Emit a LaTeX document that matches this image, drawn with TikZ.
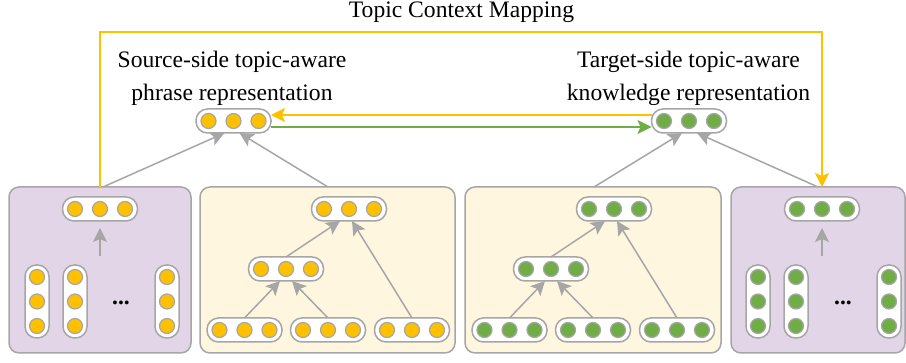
\documentclass[tikz,border=0pt]{standalone}
\usepackage{fontspec}
\setmainfont{Liberation Serif}
\usetikzlibrary{arrows.meta,calc}
\definecolor{cgold}{HTML}{FFC000}
\definecolor{cgreen}{HTML}{70AD47}
\definecolor{cgray}{HTML}{A6A6A6}
\definecolor{cpurple}{HTML}{E1D5E7}
\definecolor{ccream}{HTML}{FFF6E0}
\newcommand\hrow[4]{%
  \node[hpill] (#1) at (#2,#3) {};
  \node[dotc,fill=#4] (#1a) at ($(#1.center)+(-25,0)$) {};
  \node[dotc,fill=#4] (#1b) at (#1.center) {};
  \node[dotc,fill=#4] (#1c) at ($(#1.center)+(25,0)$) {};}
\newcommand\vrow[4]{%
  \node[vpill] (#1) at (#2,#3) {};
  \node[dotc,fill=#4] (#1a) at ($(#1.center)+(0,-24.5)$) {};
  \node[dotc,fill=#4] (#1b) at (#1.center) {};
  \node[dotc,fill=#4] (#1c) at ($(#1.center)+(0,24.5)$) {};}
\begin{document}
\begin{tikzpicture}[x=1pt,y=-1pt,
  hpill/.style={draw=cgray,line width=1.5pt,fill=white,rounded corners=11.5pt,minimum width=75pt,minimum height=24pt,inner sep=0pt,outer sep=0pt},
  vpill/.style={draw=cgray,line width=1.5pt,fill=white,rounded corners=11.5pt,minimum width=24pt,minimum height=73pt,inner sep=0pt,outer sep=0pt},
  dotc/.style={circle,draw=cgray,line width=1.2pt,minimum size=15pt,inner sep=0pt},
  panel/.style={draw=cgray,line width=1.5pt,rounded corners=10pt,minimum height=166pt,inner sep=0pt,outer sep=0pt},
  garrow/.style={draw=cgray,line width=1.5pt,-{Stealth[length=14pt,width=14pt,inset=3pt]}},
  yarrow/.style={draw=cgold,line width=1.5pt,-{Stealth[length=14pt,width=14pt,inset=3pt]}},
  grarrow/.style={draw=cgreen,line width=1.5pt,-{Stealth[length=14pt,width=14pt,inset=3pt]}},
  lab/.style={font=\fontsize{23.6}{33}\selectfont,align=center,inner sep=0pt},
  ell/.style={font=\bfseries\fontsize{23.6}{28}\selectfont,inner sep=0pt,anchor=base}
]
\path[use as bounding box] (0,0) rectangle (906,363);

% panels
\node[panel,fill=cpurple,minimum width=182pt] (pA) at (100,270) {};
\node[panel,fill=ccream,minimum width=255pt] (pB) at (327.5,270) {};
\node[panel,fill=ccream,minimum width=256pt] (pC) at (593,270) {};
\node[panel,fill=cpurple,minimum width=174pt] (pD) at (818,270) {};

% labels
\node[lab] (title) at (461.5,12.5) {Topic Context Mapping};
\node[lab] (srclab) at (232,78) {Source-side topic-aware\\phrase representation};
\node[lab] (tgtlab) at (688.5,78) {Target-side topic-aware\\knowledge representation};

% top representations
\hrow{src}{233.5}{121}{cgold}
\hrow{tgt}{689}{121}{cgreen}

% topic context mapping
\coordinate (tcmA) at ($(pA.north)$);
\coordinate (tcmD) at ($(pD.north)+(4,0)$);
\draw[yarrow] (tcmA) -- ++(0,-155) -| (tcmD);

% horizontal arrows
\draw[yarrow] ($(tgt.west)+(0,-6)$) -- ($(src.east)+(0,-6)$);
\draw[grarrow] ($(src.east)+(0,6)$) -- ($(tgt.west)+(0,6)$);

% panel A
\hrow{pa}{100}{209}{cgold}
\vrow{va1}{37}{301.5}{cgold}
\vrow{va2}{75}{301.5}{cgold}
\vrow{va3}{167}{301.5}{cgold}
\node[ell] (ellA) at (121,304.5) {...};
\coordinate (upA) at (100,256);
\draw[garrow] (upA) -- ($(pa.south)+(0,7)$);

% panel B
\hrow{tb}{349}{209}{cgold}
\hrow{mb}{286}{269}{cgold}
\hrow{ba}{244.5}{330}{cgold}
\hrow{bb}{328}{330}{cgold}
\hrow{bc}{412}{330}{cgold}
\draw[garrow] (ba.north) -- ($(mb.south)+(-6,0)$);
\draw[garrow] (bb.north) -- ($(mb.south)+(6,0)$);
\draw[garrow] (mb.north) -- ($(tb.south)+(-9,0)$);
\draw[garrow] (bc.north) -- ($(tb.south)+(3,0)$);

% panel C
\hrow{tc}{614}{209}{cgreen}
\hrow{mc}{551}{269}{cgreen}
\hrow{ca}{509.5}{330}{cgreen}
\hrow{cb}{593}{330}{cgreen}
\hrow{cc}{677}{330}{cgreen}
\draw[garrow] (ca.north) -- ($(mc.south)+(-6,0)$);
\draw[garrow] (cb.north) -- ($(mc.south)+(6,0)$);
\draw[garrow] (mc.north) -- ($(tc.south)+(-9,0)$);
\draw[garrow] (cc.north) -- ($(tc.south)+(3,0)$);

% panel D
\hrow{pd}{822}{209}{cgreen}
\vrow{vd1}{758}{301.5}{cgreen}
\vrow{vd2}{796}{301.5}{cgreen}
\vrow{vd3}{889}{301.5}{cgreen}
\node[ell] (ellD) at (843,304.5) {...};
\coordinate (upD) at (822,256);
\draw[garrow] (upD) -- ($(pd.south)+(0,7)$);

% panel to top representations
\draw[garrow] ($(pA.north)+(3,0)$) -- ($(src.south)+(-9,0)$);
\draw[garrow] ($(pB.north)+(0.5,0)$) -- ($(src.south)+(6,0)$);
\draw[garrow] ($(pC.north)+(1,0)$) -- ($(tgt.south)+(-7,0)$);
\draw[garrow] ($(pD.north)$) -- ($(tgt.south)+(8,0)$);
\end{tikzpicture}
\end{document}
